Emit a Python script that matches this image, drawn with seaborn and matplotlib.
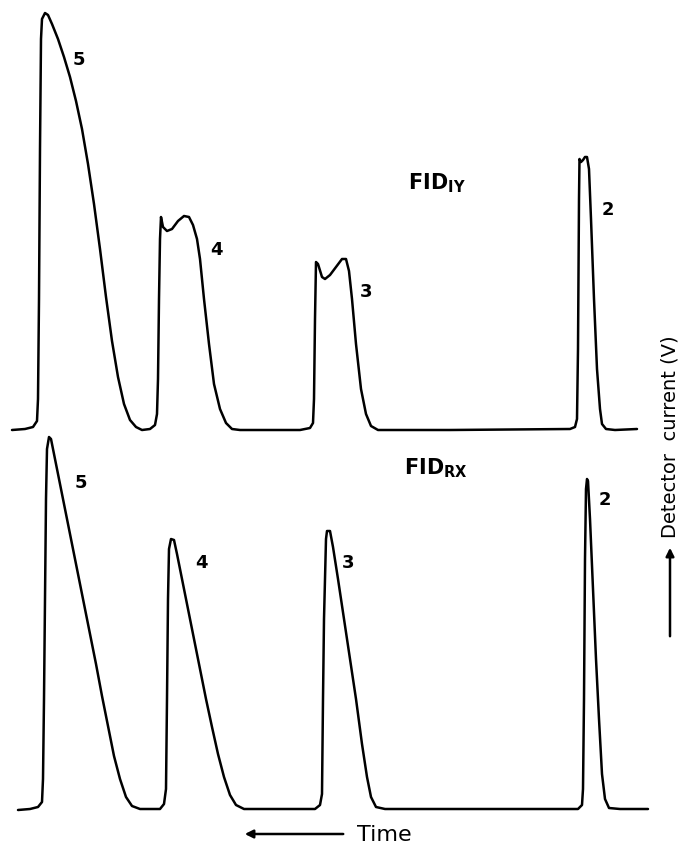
import matplotlib
matplotlib.use('Agg')
import pandas as pd
import seaborn as sns
import matplotlib.pyplot as plt

# chromatogram FID_IY (upper trace): time (a.u.) vs detector signal (a.u.)
t_iy = [12, 25, 33, 37, 38, 39, 40, 41, 42, 45,
        48, 52, 58, 64, 70, 76, 82, 88, 94, 100,
        106, 112, 118, 124, 130, 136, 142, 150, 155, 157,
        158, 159, 160, 161, 163, 167, 172, 178, 184, 189,
        193, 197, 200, 204, 209, 214, 220, 226, 232, 240,
        300, 310, 313, 314, 315, 316, 318, 322, 325, 330,
        336, 342, 346, 349, 352, 356, 361, 366, 371, 378,
        450, 570, 575, 577, 578, 579, 579.5, 581, 583, 585,
        587, 589, 591, 594, 597, 600, 602, 606, 615, 637]
v_iy = [-1, 0, 2, 8, 30, 130, 280, 390, 410, 416,
        414, 405, 390, 372, 352, 328, 300, 265, 225, 180,
        132, 88, 52, 25, 9, 2, -1, 0, 4, 15,
        50, 130, 190, 212, 202, 198, 200, 208, 213, 212,
        204, 190, 170, 130, 85, 45, 20, 6, 0, -1,
        -1, 1, 6, 30, 110, 167, 165, 152, 150, 154,
        162, 170, 170, 158, 130, 85, 40, 15, 3, -1,
        -1, 0, 2, 10, 80, 230, 270, 267, 269, 272,
        272, 260, 210, 130, 60, 20, 5, 0, -1, 0]

# chromatogram FID_RX (lower trace)
t_rx = [18, 30, 38, 42, 43, 44, 45, 46, 47, 49,
        51, 54, 60, 66, 72, 78, 84, 90, 96, 102,
        108, 114, 120, 126, 132, 140, 160, 164, 166, 167,
        168, 169, 171, 174, 177, 182, 188, 194, 200, 206,
        212, 218, 224, 230, 236, 244, 315, 320, 322, 323,
        324, 326, 327, 330, 333, 338, 344, 350, 356, 362,
        367, 371, 376, 385, 578, 582, 583, 584, 585, 586,
        587, 588, 590, 593, 596, 599, 602, 605, 609, 620,
        648]
v_rx = [-1, 0, 2, 7, 30, 110, 210, 310, 360, 372,
        370, 355, 325, 295, 265, 235, 205, 175, 145, 113,
        83, 53, 30, 12, 3, 0, 0, 5, 20, 110,
        210, 260, 270, 269, 255, 230, 200, 170, 140, 110,
        82, 55, 32, 14, 4, 0, 0, 4, 15, 110,
        190, 270, 278, 278, 262, 230, 190, 150, 110, 65,
        32, 12, 2, 0, 0, 4, 20, 110, 250, 320,
        330, 328, 290, 220, 150, 90, 35, 10, 1, 0,
        0]

# peak numbers and where they are written (time, signal)
peak_names = ['5', '4', '3', '2']
iy_label_t = [79, 216, 366, 608]
iy_label_v = [370, 180, 138, 220]
rx_label_t = [81, 201, 348, 605]
rx_label_v = [327, 247, 247, 310]

sns.set_style('white')
plt.rcParams['font.family'] = ['DejaVu Sans']
plt.rcParams['text.color'] = 'black'

W, H = 683, 845
fig = plt.figure(figsize=(W / 100, H / 100), dpi=100)

# overlay in pixel units for the axis annotations
ax_note = fig.add_axes([0, 0, 1, 1])
ax_note.set_xlim(0, W)
ax_note.set_ylim(H, 0)
ax_note.axis('off')

ax_top = fig.add_axes([0, (H - 440) / H, 1, 440 / H])
ax_bot = fig.add_axes([0, 0, 1, 415 / H])

df_iy = pd.DataFrame({'t': t_iy, 'v': v_iy})
df_rx = pd.DataFrame({'t': t_rx, 'v': v_rx})

sns.lineplot(data=df_iy, x='t', y='v', sort=False, estimator=None,
             color='black', lw=1.8, ax=ax_top)
sns.lineplot(data=df_rx, x='t', y='v', sort=False, estimator=None,
             color='black', lw=1.8, ax=ax_bot)

ax_top.set_xlim(0, W)
ax_top.set_ylim(-10, 430)
ax_bot.set_xlim(0, W)
ax_bot.set_ylim(-35, 380)

for ax in (ax_top, ax_bot):
    ax.axis('off')
    ax.patch.set_alpha(0)

for name, t, v in zip(peak_names, iy_label_t, iy_label_v):
    ax_top.text(t, v, name, fontsize=13, fontweight='bold', ha='center', va='center')
for name, t, v in zip(peak_names, rx_label_t, rx_label_v):
    ax_bot.text(t, v, name, fontsize=13, fontweight='bold', ha='center', va='center')

ax_top.text(437, 247, r'FID$_\mathbf{IY}$', fontsize=15, fontweight='bold',
            ha='center', va='center')
ax_bot.text(436, 342, r'FID$_\mathbf{RX}$', fontsize=15, fontweight='bold',
            ha='center', va='center')

# time arrow and label
ax_note.annotate('', xy=(242, 835), xytext=(346, 835),
                 arrowprops=dict(arrowstyle='-|>', color='black', lw=1.8,
                                 mutation_scale=12))
ax_note.text(357, 835, 'Time', fontsize=16, ha='left', va='center')

# detector current arrow and label
ax_note.annotate('', xy=(670, 546), xytext=(670, 640),
                 arrowprops=dict(arrowstyle='-|>', color='black', lw=1.8,
                                 mutation_scale=12))
ax_note.text(670, 437, 'Detector  current (V)', fontsize=14, rotation=90,
             ha='center', va='center')

plt.savefig('out.png', dpi=100)
